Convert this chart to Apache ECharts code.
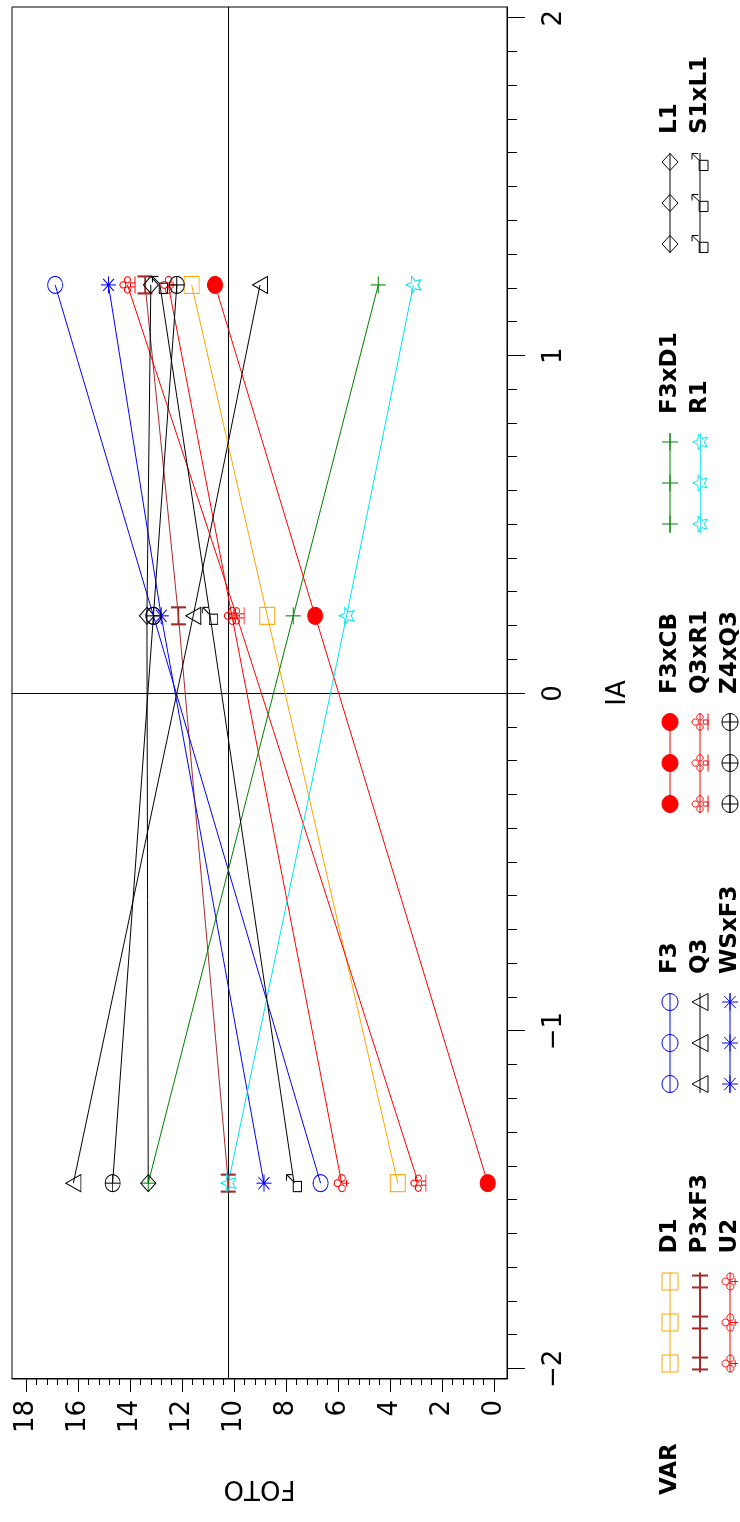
<!DOCTYPE html>
<html><head><meta charset="utf-8">
<script src="https://cdn.jsdelivr.net/npm/echarts@6/dist/echarts.min.js"></script>
<style>
html,body{margin:0;padding:0;background:#fff;overflow:hidden;width:740px;height:1522px}
#c{position:absolute;left:0;top:0;width:1522px;height:740px;transform-origin:0 0;transform:translate(0,1522px) rotate(-90deg);background:#fff}
</style></head><body><div id="c"></div>
<script>
// ---- data ----
const iaLevels = [-1.45, 0.23, 1.21];           // IA positions of the three points of every line
const seriesNames = ['D1','P3xF3','U2','F3','Q3','WSxF3','F3xCB','Q3xR1','Z4xQ3','F3xD1','R1','L1','S1xL1'];
const D1    = [3.70, 8.72, 11.63];
const P3xF3 = [10.22, 12.14, 13.42];
const U2    = [5.86, 10.08, 12.53];
const F3    = [6.67, 13.10, 16.88];
const Q3    = [16.18, 11.57, 9.00];
const WSxF3 = [8.85, 12.80, 14.83];
const F3xCB = [0.24, 6.88, 10.73];
const Q3xR1 = [2.91, 9.90, 14.10];
const Z4xQ3 = [14.67, 13.10, 12.20];
const F3xD1 = [13.30, 7.72, 4.45];
const R1    = [10.22, 5.67, 3.10];
const L1    = [13.30, 13.35, 13.20];
const S1xL1 = [7.69, 10.92, 12.85];
const iaTicks = [-2, -1, 0, 1, 2];
const fotoTicks = [0, 2, 4, 6, 8, 10, 12, 14, 16, 18];
const refIA = 0;
const refFOTO = 10.24;
const legendColumns = [['D1','P3xF3','U2'], ['F3','Q3','WSxF3'], ['F3xCB','Q3xR1','Z4xQ3'], ['F3xD1','R1'], ['L1','S1xL1']];

const seriesValues = {D1, P3xF3, U2, F3, Q3, WSxF3, F3xCB, Q3xR1, Z4xQ3, F3xD1, R1, L1, S1xL1};

// ---- styles ----
const STYLE = {
  D1:{color:'#ffa500', marker:'square'},
  P3xF3:{color:'#a52a2a', marker:'H', bw:2},
  U2:{color:'#ff0000', marker:'club'},
  F3:{color:'#0000ff', marker:'circle'},
  Q3:{color:'#000000', marker:'triangle'},
  WSxF3:{color:'#0000ff', marker:'asterisk'},
  F3xCB:{color:'#ff0000', marker:'circle', fill:true},
  Q3xR1:{color:'#ff0000', marker:'club2'},
  Z4xQ3:{color:'#000000', marker:'circlePlus'},
  F3xD1:{color:'#008000', marker:'plus'},
  R1:{color:'#00e5ee', marker:'star'},
  L1:{color:'#000000', marker:'diamond'},
  S1xL1:{color:'#000000', marker:'flag'}
};
function f(v){return (+v).toFixed(2);}
function ell(cx,cy,rx,ry){let s='';for(let i=0;i<=24;i++){const a=i/24*2*Math.PI;s+=(i?'L':'M')+f(cx+rx*Math.cos(a))+','+f(cy+ry*Math.sin(a));}return s+'Z';}
function seg(x0,y0,x1,y1){return 'M'+f(x0)+','+f(y0)+'L'+f(x1)+','+f(y1);}
const MK = {
  square:(cx,cy,w,h)=>'M'+f(cx-w/2)+','+f(cy-h/2)+'L'+f(cx+w/2)+','+f(cy-h/2)+'L'+f(cx+w/2)+','+f(cy+h/2)+'L'+f(cx-w/2)+','+f(cy+h/2)+'Z',
  circle:(cx,cy,w,h)=>ell(cx,cy,w/2,h/2),
  triangle:(cx,cy,w,h)=>'M'+f(cx)+','+f(cy-h/2)+'L'+f(cx+w/2)+','+f(cy+h/2)+'L'+f(cx-w/2)+','+f(cy+h/2)+'Z',
  diamond:(cx,cy,w,h)=>'M'+f(cx)+','+f(cy-h/2)+'L'+f(cx+w/2)+','+f(cy)+'L'+f(cx)+','+f(cy+h/2)+'L'+f(cx-w/2)+','+f(cy)+'Z',
  H:(cx,cy,w,h)=>seg(cx-w*0.35,cy-h/2,cx-w*0.35,cy+h/2)+seg(cx+w*0.35,cy-h/2,cx+w*0.35,cy+h/2)+seg(cx-w*0.35,cy,cx+w*0.35,cy),
  plus:(cx,cy,w,h)=>seg(cx-w/2,cy,cx+w/2,cy)+seg(cx,cy-h/2,cx,cy+h/2),
  asterisk:(cx,cy,w,h)=>seg(cx-w/2,cy,cx+w/2,cy)+seg(cx,cy-h/2,cx,cy+h/2)+seg(cx-w*0.36,cy-h*0.36,cx+w*0.36,cy+h*0.36)+seg(cx+w*0.36,cy-h*0.36,cx-w*0.36,cy+h*0.36),
  circlePlus:(cx,cy,w,h)=>ell(cx,cy,w/2,h/2)+seg(cx-w/2,cy,cx+w/2,cy)+seg(cx,cy-h/2,cx,cy+h/2),
  star:(cx,cy,w,h)=>{let s='';for(let i=0;i<10;i++){const a=-Math.PI/2+i*Math.PI/5;const r=i%2?0.45:1;s+=(i?'L':'M')+f(cx+r*w/2*Math.cos(a))+','+f(cy+r*h/2*Math.sin(a));}return s+'Z';},
  club:(cx,cy,w,h)=>ell(cx,cy-h*0.28,w*0.2,h*0.22)+ell(cx-w*0.3,cy+h*0.02,w*0.2,h*0.22)+ell(cx+w*0.3,cy+h*0.02,w*0.2,h*0.22)+seg(cx,cy,cx,cy+h/2)+seg(cx-w*0.2,cy+h*0.32,cx+w*0.2,cy+h*0.32),
  club2:(cx,cy,w,h)=>ell(cx,cy-h*0.3,w*0.18,h*0.2)+ell(cx-w*0.3,cy,w*0.18,h*0.2)+ell(cx+w*0.3,cy,w*0.18,h*0.2)+'M'+f(cx-w*0.12)+','+f(cy+h*0.2)+'L'+f(cx+w*0.12)+','+f(cy+h*0.2)+'L'+f(cx+w*0.12)+','+f(cy+h/2)+'L'+f(cx-w*0.12)+','+f(cy+h/2)+'Z'+seg(cx-w/2,cy+h/2,cx+w/2,cy+h/2),
  flag:(cx,cy,w,h)=>'M'+f(cx-w/2)+','+f(cy-h*0.05)+'L'+f(cx+w*0.1)+','+f(cy-h*0.05)+'L'+f(cx+w*0.1)+','+f(cy+h/2)+'L'+f(cx-w/2)+','+f(cy+h/2)+'Z'+seg(cx+w*0.1,cy-h*0.05,cx+w/2,cy-h/2)+seg(cx+w*0.15,cy-h/2,cx+w/2,cy-h/2)+seg(cx+w/2,cy-h/2,cx+w/2,cy-h*0.1)
};
const MS = [17, 15];        // marker size (w, h)
const LW = 100, LH = 16;    // legend sample size
function legendIcon(m){
  return 'path://'+seg(0,LH/2,LW,LH/2)+MK[m](9,LH/2,MS[0],LH)+MK[m](50,LH/2,MS[0],LH)+MK[m](91,LH/2,MS[0],LH);
}
function minorOf(ticks, n){const out=[];for(let i=0;i<ticks.length-1;i++){const st=(ticks[i+1]-ticks[i])/n;for(let k=1;k<n;k++)out.push(+(ticks[i]+k*st).toFixed(4));}return out;}

const FONT = 'DejaVu Sans';
const series = seriesNames.map((n, i) => {
  const st = STYLE[n];
  const s = {
    name: n, type: 'line',
    data: iaLevels.map((x, j) => [x, seriesValues[n][j]]),
    symbol: 'path://' + MK[st.marker](5,5,10,10), symbolSize: MS, symbolKeepAspect: false,
    lineStyle: {color: st.color, width: 1},
    itemStyle: {color: st.fill ? st.color : 'rgba(0,0,0,0)', borderColor: st.color, borderWidth: st.bw || 1},
    emphasis: {disabled: true}, silent: true, z: 3
  };
  if (i === 0) {
    s.markLine = {silent: true, symbol: ['none','none'], label: {show: false},
      lineStyle: {color: '#000', type: 'solid', width: 1},
      data: [{xAxis: refIA}, {yAxis: refFOTO}], z: 2};
  }
  return s;
});

const legends = legendColumns.map((col, ci) => ({
  orient: 'vertical', left: 148.5 + 280*ci, top: 658.5, height: 120, padding: 0,
  itemWidth: LW, itemHeight: LH, itemGap: 7, selectedMode: false,
  textStyle: {fontFamily: FONT, fontWeight: 'bold', fontSize: 23, lineHeight: 22, color: '#000', padding: [0,0,0,14]},
  data: col.map(n => ({name: n, icon: legendIcon(STYLE[n].marker),
    itemStyle: {color: STYLE[n].fill ? STYLE[n].color : 'rgba(0,0,0,0)', borderColor: STYLE[n].color, borderWidth: STYLE[n].bw || 1}}))
}));

const labelStyle = {fontFamily: FONT, fontSize: 26, color: '#000'};
const chart = echarts.init(document.getElementById('c'), null, {renderer: 'canvas'});
chart.setOption({
  animation: false,
  backgroundColor: '#fff',
  title: {text: 'VAR', left: 27, top: 659, padding: 0, textStyle: {fontFamily: FONT, fontWeight: 'bold', fontSize: 23, lineHeight: 22, color: '#000'}},
  legend: legends,
  grid: {left: 143, right: 7, top: 12, bottom: 233, show: true, borderColor: '#000', borderWidth: 1, backgroundColor: 'transparent'},
  xAxis: [
    {type: 'value', min: -2.03, max: 2.033, position: 'bottom',
     name: 'IA', nameLocation: 'middle', nameGap: 98, nameTextStyle: labelStyle,
     axisLine: {show: true, onZero: false, lineStyle: {color: '#000', width: 1}},
     axisTick: {show: true, inside: false, length: 18, customValues: iaTicks, lineStyle: {color: '#000'}},
     axisLabel: {show: true, margin: 34, customValues: iaTicks, ...labelStyle, formatter: v => String(v).replace('-', '\u2212')},
     splitLine: {show: false}},
    {type: 'value', min: -2.03, max: 2.033, position: 'bottom',
     axisLine: {show: false, onZero: false}, axisLabel: {show: false}, splitLine: {show: false},
     axisTick: {show: true, inside: false, length: 10, customValues: minorOf(iaTicks, 10), lineStyle: {color: '#000'}}}
  ],
  yAxis: [
    {type: 'value', min: -0.5, max: 18.54, position: 'left',
     name: 'FOTO', nameLocation: 'middle', nameGap: 96, nameTextStyle: labelStyle,
     axisLine: {show: true, onZero: false, lineStyle: {color: '#000', width: 1}},
     axisTick: {show: true, inside: false, length: 13, customValues: fotoTicks, lineStyle: {color: '#000'}},
     axisLabel: {show: true, margin: 21, customValues: fotoTicks, ...labelStyle},
     splitLine: {show: false}},
    {type: 'value', min: -0.5, max: 18.54, position: 'left',
     axisLine: {show: false, onZero: false}, axisLabel: {show: false}, splitLine: {show: false},
     axisTick: {show: true, inside: false, length: 6, customValues: minorOf(fotoTicks, 5), lineStyle: {color: '#000'}}}
  ],
  series: series
});
</script></body></html>
